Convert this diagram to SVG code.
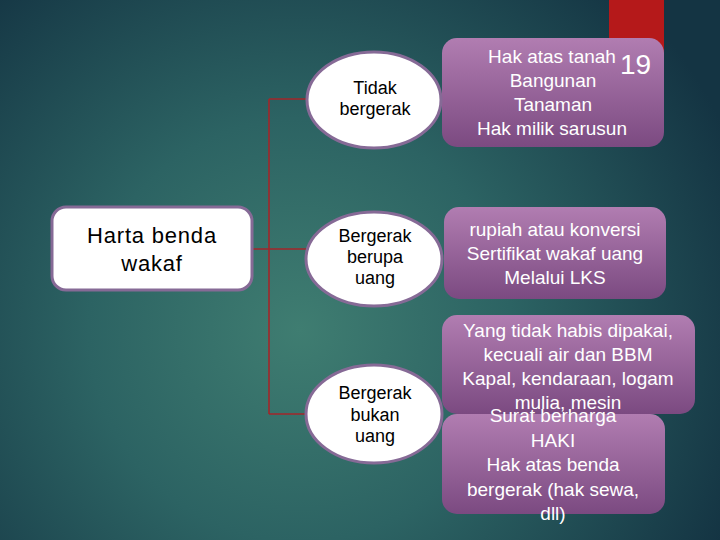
<svg xmlns="http://www.w3.org/2000/svg" width="720" height="540" viewBox="0 0 720 540">
  <defs>
    <radialGradient id="bg" cx="300" cy="330" r="470" gradientUnits="userSpaceOnUse">
      <stop offset="0" stop-color="#3f7d71"/>
      <stop offset="0.45" stop-color="#2c6363"/>
      <stop offset="1" stop-color="#143443"/>
    </radialGradient>
    <linearGradient id="box" x1="0" y1="0" x2="0" y2="1">
      <stop offset="0" stop-color="#b17db1"/>
      <stop offset="1" stop-color="#7b4a81"/>
    </linearGradient>
    <style>
      .box { fill: url(#box); }
      .ell { fill: #ffffff; stroke: #866a96; stroke-width: 3; }
      .root { fill: #ffffff; stroke: #866a96; stroke-width: 3; }
      .conn { fill: none; stroke: #a3262a; stroke-width: 1.6; }
      .bt { font-family: "Liberation Sans", Arial, sans-serif; font-size: 19px; fill: #ffffff; text-anchor: middle; }
      .et { font-family: "Liberation Sans", Arial, sans-serif; font-size: 18px; fill: #000000; text-anchor: middle; }
      .rt { font-family: "Liberation Sans", Arial, sans-serif; font-size: 22px; letter-spacing: 0.8px; fill: #000000; text-anchor: middle; }
    </style>
  </defs>
  <rect x="0" y="0" width="720" height="540" fill="url(#bg)"/>
  <rect id="accent" x="609" y="0" width="55" height="60" fill="#b5191a"/>

  <g id="connectors">
    <line class="conn" x1="252" y1="249" x2="307" y2="249"/>
    <line class="conn" x1="269" y1="99" x2="269" y2="414"/>
    <line class="conn" x1="269" y1="99" x2="309" y2="99"/>
    <line class="conn" x1="269" y1="414" x2="307" y2="414"/>
  </g>

  <g id="root">
    <rect class="root" x="52" y="207" width="200" height="83" rx="14"/>
    <text class="rt" x="152" y="243">Harta benda</text>
    <text class="rt" x="152" y="271">wakaf</text>
  </g>

  <g id="box1">
    <rect class="box" x="442" y="38" width="222" height="109" rx="15"/>
    <text class="bt" x="552" y="63">Hak atas tanah</text>
    <text class="bt" x="553" y="87">Bangunan</text>
    <text class="bt" x="553" y="111">Tanaman</text>
    <text class="bt" x="552" y="135">Hak milik sarusun</text>
    <text x="620" y="74" font-family="Liberation Sans, Arial, sans-serif" font-size="28" fill="#ffffff">19</text>
  </g>

  <g id="box2">
    <rect class="box" x="444" y="207" width="222" height="92" rx="15"/>
    <text class="bt" x="555" y="236">rupiah atau konversi</text>
    <text class="bt" x="555" y="260">Sertifikat wakaf uang</text>
    <text class="bt" x="555" y="284">Melalui LKS</text>
  </g>

  <g id="box4">
    <rect class="box" x="442" y="414" width="223" height="100" rx="15"/>
  </g>
  <g id="box3">
    <rect class="box" x="442" y="315" width="253" height="99" rx="15"/>
    <text class="bt" x="568" y="337">Yang tidak habis dipakai,</text>
    <text class="bt" x="568" y="361">kecuali air dan BBM</text>
    <text class="bt" x="568" y="385">Kapal, kendaraan, logam</text>
    <text class="bt" x="568" y="409">mulia, mesin</text>
  </g>
  <g id="box4-text">
    <text class="bt" x="553" y="422">Surat berharga</text>
    <text class="bt" x="553" y="447">HAKI</text>
    <text class="bt" x="553" y="471">Hak atas benda</text>
    <text class="bt" x="553" y="496">bergerak (hak sewa,</text>
    <text class="bt" x="553" y="520">dll)</text>
  </g>

  <g id="node-tidak">
    <ellipse class="ell" cx="374" cy="100" rx="67" ry="48"/>
    <text class="et" x="375" y="94">Tidak</text>
    <text class="et" x="375" y="115">bergerak</text>
  </g>
  <g id="node-uang">
    <ellipse class="ell" cx="374" cy="259" rx="68" ry="47"/>
    <text class="et" x="375" y="242">Bergerak</text>
    <text class="et" x="375" y="263">berupa</text>
    <text class="et" x="375" y="284">uang</text>
  </g>
  <g id="node-bukan">
    <ellipse class="ell" cx="374" cy="414" rx="68" ry="49"/>
    <text class="et" x="375" y="399">Bergerak</text>
    <text class="et" x="375" y="421">bukan</text>
    <text class="et" x="375" y="442">uang</text>
  </g>
</svg>
